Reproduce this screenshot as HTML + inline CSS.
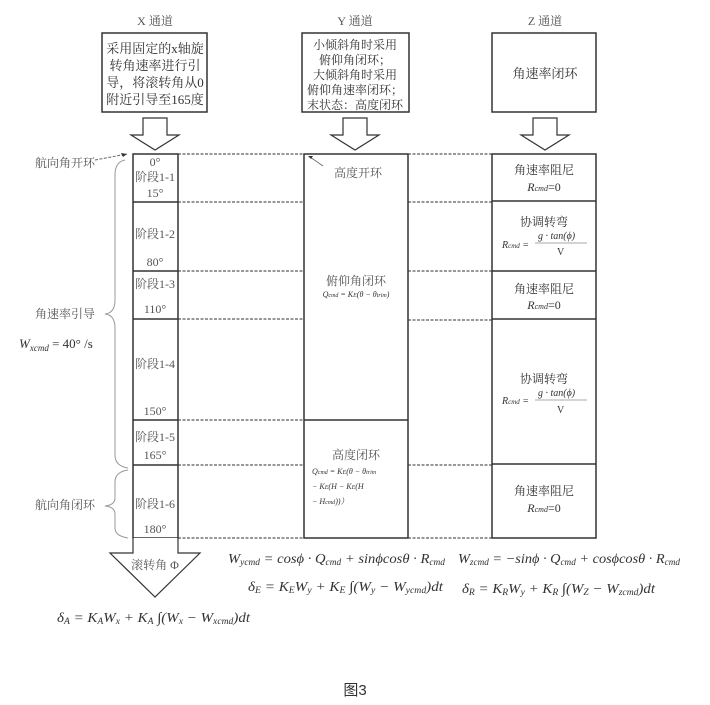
<!DOCTYPE html>
<html><head><meta charset="utf-8"><style>
body{margin:0;background:#fff;width:710px;height:705px;overflow:hidden}
svg{display:block}
text{font-family:"Liberation Serif","Noto Serif CJK SC","Noto Sans CJK SC",serif;fill:#333}
.c{font-family:"Liberation Serif","Noto Serif CJK SC",serif;font-size:12px;fill:#555}
.m{font-family:"Liberation Serif",serif;font-style:italic;fill:#333}
</style></head><body>
<svg width="710" height="705" viewBox="0 0 710 705" xmlns="http://www.w3.org/2000/svg">
<g fill="none" stroke="#333" stroke-width="1.5">
<rect x="102" y="33" width="105" height="79"/>
<rect x="302" y="33" width="107" height="79"/>
<rect x="492" y="33" width="104" height="79"/>
<rect x="133" y="154" width="45" height="384"/>
<line x1="133" y1="202" x2="178" y2="202"/>
<line x1="133" y1="271" x2="178" y2="271"/>
<line x1="133" y1="319" x2="178" y2="319"/>
<line x1="133" y1="420" x2="178" y2="420"/>
<line x1="133" y1="465" x2="178" y2="465"/>
<rect x="304" y="154" width="104" height="384"/>
<line x1="304" y1="420" x2="408" y2="420"/>
<rect x="492" y="154" width="104" height="384"/>
<line x1="492" y1="201" x2="596" y2="201"/>
<line x1="492" y1="271" x2="596" y2="271"/>
<line x1="492" y1="319" x2="596" y2="319"/>
<line x1="492" y1="464" x2="596" y2="464"/>
</g>
<g stroke="#333" stroke-width="1" stroke-dasharray="3,1.5">
<line x1="178" y1="154" x2="304" y2="154"/><line x1="408" y1="154" x2="492" y2="154"/>
<line x1="178" y1="202" x2="304" y2="202"/><line x1="408" y1="202" x2="492" y2="202"/>
<line x1="178" y1="271" x2="304" y2="271"/><line x1="408" y1="271" x2="492" y2="271"/>
<line x1="178" y1="319" x2="304" y2="319"/><line x1="408" y1="320" x2="492" y2="320"/>
<line x1="178" y1="420" x2="304" y2="420"/>
<line x1="178" y1="465" x2="304" y2="465"/><line x1="408" y1="465" x2="492" y2="465"/>
<line x1="178" y1="538" x2="304" y2="538"/><line x1="408" y1="538" x2="492" y2="538"/>
<line x1="95" y1="160" x2="127" y2="154" stroke="#666"/>
</g>
<g fill="#fff" stroke="#333" stroke-width="1.2">
<path d="M143 118 H167 V135 H179 L155 150 L131 135 H143 Z"/>
<path d="M343 118 H367 V135 H379 L355 150 L331 135 H343 Z"/>
<path d="M533 118 H557 V135 H569 L545 150 L521 135 H533 Z"/>
<path d="M133 538 V553 H110 L155 597 L200 553 H178 V538"/>
</g>
<path d="M127 154 l-6 -1 l2 4 z" fill="#333"/>
<line x1="310" y1="157" x2="323" y2="166" stroke="#666" stroke-width="0.8"/>
<path d="M308 156 l5 0 l-2 3 z" fill="#333"/>
<g fill="none" stroke="#999" stroke-width="1">
<path d="M125 160 Q115 162 115 175 V300 Q115 313 105 314 Q115 315 115 328 V455 Q115 466 128 468"/>
<path d="M128 470 Q115 472 115 482 V498 Q115 505 105 506 Q115 507 115 514 V528 Q115 536 128 538"/>
</g>
<text class="c" x="155" y="25" text-anchor="middle">X 通道</text>
<text class="c" x="355" y="25" text-anchor="middle">Y 通道</text>
<text class="c" x="545" y="25" text-anchor="middle">Z 通道</text>
<g font-size="13" text-anchor="middle">
<text x="155" y="53">采用固定的x轴旋</text>
<text x="155" y="70">转角速率进行引</text>
<text x="155" y="87">导，将滚转角从0</text>
<text x="155" y="104">附近引导至165度</text>
</g>
<g font-size="12" text-anchor="middle">
<text x="355" y="49">小倾斜角时采用</text>
<text x="355" y="64">俯仰角闭环；</text>
<text x="355" y="79">大倾斜角时采用</text>
<text x="355" y="94">俯仰角速率闭环；</text>
<text x="355" y="109">末状态：高度闭环</text>
</g>
<text x="545" y="78" font-size="13" text-anchor="middle">角速率闭环</text>
<g class="c" font-size="11" text-anchor="middle">
<text x="155" y="166" class="c">0°</text>
<text x="155" y="181" class="c">阶段1-1</text>
<text x="155" y="197" class="c">15°</text>
<text x="155" y="238" class="c">阶段1-2</text>
<text x="155" y="266" class="c">80°</text>
<text x="155" y="288" class="c">阶段1-3</text>
<text x="155" y="313" class="c">110°</text>
<text x="155" y="368" class="c">阶段1-4</text>
<text x="155" y="415" class="c">150°</text>
<text x="155" y="441" class="c">阶段1-5</text>
<text x="155" y="459" class="c">165°</text>
<text x="155" y="508" class="c">阶段1-6</text>
<text x="155" y="533" class="c">180°</text>
</g>
<text class="c" x="35" y="167" font-size="12">航向角开环</text>
<text class="c" x="35" y="318" font-size="12">角速率引导</text>
<text class="m" x="19" y="348" font-size="13">W<tspan font-size="9" dy="3">xcmd</tspan><tspan dy="-3" font-style="normal"> = 40° /s</tspan></text>
<text class="c" x="35" y="509" font-size="12">航向角闭环</text>
<text class="c" x="358" y="177" font-size="12" text-anchor="middle">高度开环</text>
<text class="c" x="356" y="285" font-size="12" text-anchor="middle">俯仰角闭环</text>
<text class="m" x="356" y="297" font-size="8" text-anchor="middle">Q<tspan font-size="6">cmd</tspan> = K<tspan font-size="6">E</tspan>(θ − θ<tspan font-size="6">trim</tspan>)</text>
<text class="c" x="356" y="459" font-size="11" text-anchor="middle">高度闭环</text>
<g class="m" font-size="8">
<text x="312" y="474">Q<tspan font-size="6">cmd</tspan> = K<tspan font-size="6">E</tspan>(θ − θ<tspan font-size="6">trim</tspan></text>
<text x="312" y="489">− K<tspan font-size="6">E</tspan>(H − K<tspan font-size="6">E</tspan>(H</text>
<text x="312" y="504">− H<tspan font-size="6">cmd</tspan>))）</text>
</g>
<g text-anchor="middle">
<text x="544" y="174" font-size="12">角速率阻尼</text>
<text class="m" x="544" y="191" font-size="12">R<tspan font-size="8">cmd</tspan><tspan font-style="normal">=0</tspan></text>
<text x="544" y="226" font-size="12">协调转弯</text>
<text x="544" y="293" font-size="12">角速率阻尼</text>
<text class="m" x="544" y="309" font-size="12">R<tspan font-size="8">cmd</tspan><tspan font-style="normal">=0</tspan></text>
<text x="544" y="383" font-size="12">协调转弯</text>
<text x="544" y="495" font-size="12">角速率阻尼</text>
<text class="m" x="544" y="512" font-size="12">R<tspan font-size="8">cmd</tspan><tspan font-style="normal">=0</tspan></text>
</g>
<g class="m" font-size="10">
<text x="502" y="248">R<tspan font-size="7">cmd</tspan> =</text>
<text x="538" y="239">g · tan(ϕ)</text>
<line x1="535" y1="243" x2="587" y2="243" stroke="#555" stroke-width="0.6"/>
<text x="557" y="255" font-style="normal">V</text>
<text x="502" y="404">R<tspan font-size="7">cmd</tspan> =</text>
<text x="538" y="396">g · tan(ϕ)</text>
<line x1="535" y1="400" x2="587" y2="400" stroke="#555" stroke-width="0.6"/>
<text x="557" y="413" font-style="normal">V</text>
</g>
<text class="c" x="155" y="569" font-size="12" text-anchor="middle">滚转角 Φ</text>
<g class="m" font-size="14">
<text x="228" y="563" textLength="217" lengthAdjust="spacingAndGlyphs">W<tspan font-size="9" dy="2">ycmd</tspan><tspan dy="-2"> = cosϕ · Q</tspan><tspan font-size="9" dy="2">cmd</tspan><tspan dy="-2"> + sinϕcosθ · R</tspan><tspan font-size="9" dy="2">cmd</tspan></text>
<text x="458" y="563" textLength="222" lengthAdjust="spacingAndGlyphs">W<tspan font-size="9" dy="2">zcmd</tspan><tspan dy="-2"> = −sinϕ · Q</tspan><tspan font-size="9" dy="2">cmd</tspan><tspan dy="-2"> + cosϕcosθ · R</tspan><tspan font-size="9" dy="2">cmd</tspan></text>
<text x="248" y="591" textLength="195" lengthAdjust="spacingAndGlyphs">δ<tspan font-size="9" dy="2">E</tspan><tspan dy="-2"> = K</tspan><tspan font-size="9" dy="2">E</tspan><tspan dy="-2">W</tspan><tspan font-size="9" dy="2">y</tspan><tspan dy="-2"> + K</tspan><tspan font-size="9" dy="2">E</tspan><tspan dy="-2"> ∫(W</tspan><tspan font-size="9" dy="2">y</tspan><tspan dy="-2"> − W</tspan><tspan font-size="9" dy="2">ycmd</tspan><tspan dy="-2">)dt</tspan></text>
<text x="462" y="593" textLength="193" lengthAdjust="spacingAndGlyphs">δ<tspan font-size="9" dy="2">R</tspan><tspan dy="-2"> = K</tspan><tspan font-size="9" dy="2">R</tspan><tspan dy="-2">W</tspan><tspan font-size="9" dy="2">y</tspan><tspan dy="-2"> + K</tspan><tspan font-size="9" dy="2">R</tspan><tspan dy="-2"> ∫(W</tspan><tspan font-size="9" dy="2">Z</tspan><tspan dy="-2"> − W</tspan><tspan font-size="9" dy="2">zcmd</tspan><tspan dy="-2">)dt</tspan></text>
<text x="57" y="622" textLength="193" lengthAdjust="spacingAndGlyphs">δ<tspan font-size="9" dy="2">A</tspan><tspan dy="-2"> = K</tspan><tspan font-size="9" dy="2">A</tspan><tspan dy="-2">W</tspan><tspan font-size="9" dy="2">x</tspan><tspan dy="-2"> + K</tspan><tspan font-size="9" dy="2">A</tspan><tspan dy="-2"> ∫(W</tspan><tspan font-size="9" dy="2">x</tspan><tspan dy="-2"> − W</tspan><tspan font-size="9" dy="2">xcmd</tspan><tspan dy="-2">)dt</tspan></text>
</g>
<text x="355" y="695" font-size="15" text-anchor="middle" style="font-family:'Liberation Sans','Noto Sans CJK SC',sans-serif">图3</text>
</svg>
</body></html>
